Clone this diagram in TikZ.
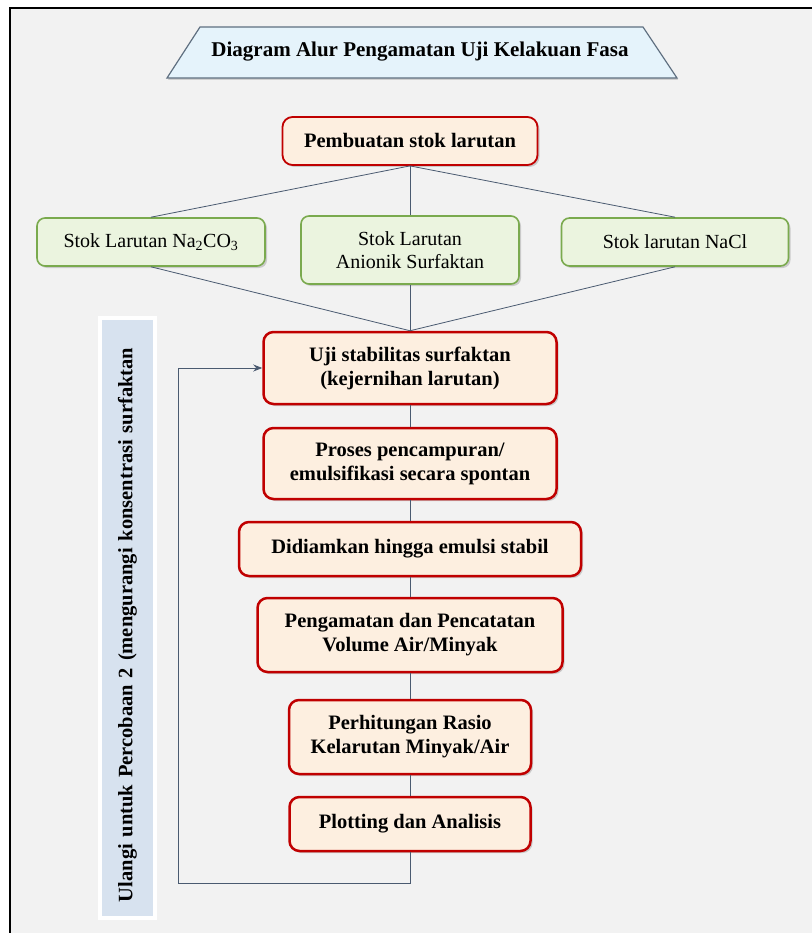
\documentclass[tikz,border=0pt]{standalone}
\usepackage{fontspec}
\setmainfont{Liberation Serif}
\usepackage{tikz}
\usetikzlibrary{positioning, shapes.geometric, arrows.meta, shadows, calc}
\usepackage{xcolor}
\definecolor{bggray}{HTML}{F2F2F2}
\definecolor{stepred}{HTML}{C00000}
\definecolor{stepfill}{HTML}{FDEFE0}
\definecolor{stokgreen}{HTML}{7AAA4E}
\definecolor{stokfill}{HTML}{EBF4DF}
\definecolor{titlefill}{HTML}{E5F3FB}
\definecolor{titleedge}{HTML}{5F6F80}
\definecolor{loopfill}{HTML}{D7E2EF}
\definecolor{linkblue}{HTML}{4A5A70}

\begin{document}
\begin{tikzpicture}[
  x=1pt, y=-1pt,
  proc/.style={rectangle, draw=stepred, fill=stepfill, line width=2.5pt, rounded corners=10pt, align=center, inner ysep=6pt, font=\bfseries\fontsize{20.5}{24}\selectfont, drop shadow={shadow xshift=2pt, shadow yshift=-2pt, opacity=0.35}},
  stok/.style={rectangle, draw=stokgreen, fill=stokfill, line width=1.6pt, rounded corners=8pt, align=center, inner ysep=4pt, font=\fontsize{20}{23}\selectfont, drop shadow={shadow xshift=2pt, shadow yshift=-2pt, opacity=0.35}},
  link/.style={draw=linkblue, line width=0.8pt},
  arrow/.style={link, -{Stealth[length=9pt, width=7pt]}}
]
\useasboundingbox (0,0) rectangle (811,933);

% Frame
\draw[black, line width=1.6pt, fill=bggray] (10,8) rectangle (840,960);

% Title
\filldraw[fill=titlefill, draw=titleedge, line width=1.2pt, drop shadow={shadow xshift=1pt, shadow yshift=-2pt, opacity=0.3}]
  (200,27) -- (643,27) -- (677,78) -- (167,78) -- cycle;
\node[font=\bfseries\fontsize{21}{24}\selectfont] (title) at (420,52) {Diagram Alur Pengamatan Uji Kelakuan Fasa};

% Stock solutions
\node[proc, line width=1.8pt, minimum width=255pt, minimum height=48pt] (pembuatan) at (410,141) {Pembuatan stok larutan};
\node[stok, minimum width=228pt, minimum height=48pt] (na2co3) at (151,242) {Stok Larutan Na\textsubscript{2}CO\textsubscript{3}};
\node[stok, minimum width=218pt, minimum height=68pt] (anionik) at (410,250) {Stok Larutan\\ Anionik Surfaktan};
\node[stok, minimum width=227pt, minimum height=48pt] (nacl) at (675,242) {Stok larutan NaCl};

% Procedure
\node[proc, minimum width=293pt, minimum height=72pt] (uji) at (410,368) {Uji stabilitas surfaktan\\ (kejernihan larutan)};
\node[proc, minimum width=293pt, minimum height=71pt] (proses) [below=21.5pt of uji] {Proses pencampuran/\\ emulsifikasi secara spontan};
\node[proc, minimum width=342pt, minimum height=54pt] (diam) [below=20.5pt of proses] {Didiamkan hingga emulsi stabil};
\node[proc, minimum width=305pt, minimum height=74pt] (amat) [below=19.5pt of diam] {Pengamatan dan Pencatatan\\ Volume Air/Minyak};
\node[proc, minimum width=242pt, minimum height=74pt] (rasio) [below=25.5pt of amat] {Perhitungan Rasio\\ Kelarutan Minyak/Air};
\node[proc, minimum width=241pt, minimum height=54pt] (plotting) [below=20.5pt of rasio] {Plotting dan Analisis};

% Repeat label
\node[rectangle, rotate=90, draw=white, line width=4pt, fill=loopfill, minimum width=600pt, minimum height=55pt, text width=568pt, inner xsep=16pt, align=left, font=\bfseries\fontsize{20.5}{24}\selectfont, drop shadow={shadow xshift=2pt, shadow yshift=-2pt, opacity=0.3}] (ulangi) at (127.5,618) {Ulangi untuk Percobaan 2 (mengurangi konsentrasi surfaktan};

% Links
\draw[link] (pembuatan.south) -- (na2co3.north);
\draw[link] (pembuatan.south) -- (anionik.north);
\draw[link] (pembuatan.south) -- (nacl.north);
\draw[link] (na2co3.south) -- (uji.north);
\draw[link] (anionik.south) -- (uji.north);
\draw[link] (nacl.south) -- (uji.north);
\draw[link] (uji) -- (proses);
\draw[link] (proses) -- (diam);
\draw[link] (diam) -- (amat);
\draw[link] (amat) -- (rasio);
\draw[link] (rasio) -- (plotting);

% Loop back
\coordinate (loopcorner) at (178,883);
\draw[arrow] (plotting.south) |- (loopcorner) |- (uji.west);

\end{tikzpicture}
\end{document}
